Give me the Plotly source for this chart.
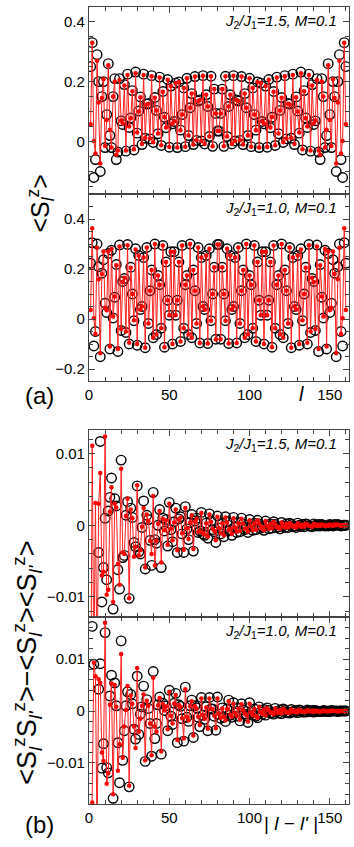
import plotly.graph_objects as go

# site index l (panel a) and distance |l-l'| (panel b)
sites = list(range(1, 161))

# <S_l^z>, J2/J1 = 1.5
sz_j15_black = [
    0.25, 0.33, -0.12, -0.06, 0.29, 0.20, -0.10, 0.15, 0.20, -0.02,
    0.09, 0.26, 0.02, -0.02, 0.15, 0.21, -0.06, -0.035, 0.21, 0.069,
    0.057, 0.19, -0.032, 0.225, 0.047, 0.079, 0.17, -0.028, 0.232, 0.028,
    0.102, 0.149, -0.01, 0.225, 0.011, 0.125, 0.127, 0.009, 0.22, -0.003,
    0.147, 0.104, 0.026, 0.215, -0.013, 0.167, 0.081, 0.046, 0.207, -0.019,
    0.185, 0.059, 0.067, 0.195, -0.02, 0.199, 0.038, 0.09, 0.179, -0.017,
    0.211, 0.02, 0.113, 0.16, -0.01, 0.217, 0.004, 0.135, 0.139, 0.002,
    0.22, -0.008, 0.156, 0.117, 0.017, 0.218, -0.016, 0.175, 0.094, 0.035,
    0.035, 0.094, 0.175, -0.016, 0.218, 0.017, 0.117, 0.156, -0.008, 0.22,
    0.002, 0.139, 0.135, 0.004, 0.217, -0.01, 0.16, 0.113, 0.02, 0.211,
    -0.017, 0.179, 0.09, 0.038, 0.199, -0.02, 0.195, 0.067, 0.059, 0.185,
    -0.019, 0.207, 0.046, 0.081, 0.167, -0.013, 0.215, 0.026, 0.104, 0.147,
    -0.003, 0.22, 0.009, 0.127, 0.125, 0.011, 0.225, -0.01, 0.149, 0.102,
    0.028, 0.232, -0.028, 0.17, 0.079, 0.047, 0.225, -0.032, 0.19, 0.057,
    0.069, 0.21, -0.035, -0.06, 0.21, 0.15, -0.02, 0.02, 0.26, 0.09,
    -0.02, 0.20, 0.15, -0.10, 0.20, 0.29, -0.06, -0.12, 0.33, 0.25,
]
sz_j15_red = [
    0.058, 0.33, 0.002, -0.04, 0.27, 0.13, -0.073, 0.145, 0.208, -0.015,
    0.072, 0.255, 0.039, -0.02, 0.15, 0.20, -0.044, -0.03, 0.205, 0.07,
    0.06, 0.187, -0.03, 0.222, 0.05, 0.078, 0.168, -0.026, 0.228, 0.03,
    0.1, 0.148, -0.008, 0.222, 0.012, 0.124, 0.126, 0.01, 0.218, -0.002,
    0.146, 0.104, 0.027, 0.214, -0.012, 0.166, 0.082, 0.047, 0.206, -0.018,
    0.185, 0.059, 0.067, 0.195, -0.02, 0.199, 0.038, 0.09, 0.179, -0.017,
    0.211, 0.02, 0.113, 0.16, -0.01, 0.217, 0.004, 0.135, 0.139, 0.002,
    0.22, -0.008, 0.156, 0.117, 0.017, 0.218, -0.016, 0.175, 0.094, 0.035,
    0.035, 0.094, 0.175, -0.016, 0.218, 0.017, 0.117, 0.156, -0.008, 0.22,
    0.002, 0.139, 0.135, 0.004, 0.217, -0.01, 0.16, 0.113, 0.02, 0.211,
    -0.017, 0.179, 0.09, 0.038, 0.199, -0.02, 0.195, 0.067, 0.059, 0.185,
    -0.018, 0.206, 0.047, 0.082, 0.166, -0.012, 0.214, 0.027, 0.104, 0.146,
    -0.002, 0.218, 0.01, 0.126, 0.124, 0.012, 0.222, -0.008, 0.148, 0.1,
    0.03, 0.228, -0.026, 0.168, 0.078, 0.05, 0.222, -0.03, 0.187, 0.06,
    0.07, 0.205, -0.03, -0.044, 0.20, 0.15, -0.02, 0.039, 0.255, 0.072,
    -0.015, 0.208, 0.145, -0.073, 0.13, 0.27, -0.04, 0.002, 0.33, 0.058,
]

# <S_l^z>, J2/J1 = 1.0
sz_j10_black = [
    0.223, 0.305, -0.108, -0.05, 0.30, 0.209, -0.151, 0.183, 0.237, 0.063,
    0.026, 0.262, -0.12, 0.275, 0.004, 0.087, 0.218, -0.13, 0.296, -0.046,
    0.15, 0.162, -0.054, 0.298, -0.1, 0.207, 0.1, -0.007, 0.281, -0.105,
    0.254, 0.038, 0.05, 0.246, -0.115, 0.286, -0.018, 0.113, 0.196, -0.075,
    0.3, -0.062, 0.174, 0.137, -0.037, 0.294, -0.113, 0.228, 0.075, 0.015,
    0.269, -0.1, 0.269, 0.015, 0.075, 0.228, -0.09, 0.294, -0.037, 0.137,
    0.174, -0.062, 0.3, -0.075, 0.196, 0.113, -0.018, 0.286, -0.096, 0.246,
    0.05, 0.038, 0.254, -0.098, 0.281, -0.007, 0.1, 0.207, -0.081, 0.298,
    0.298, -0.081, 0.207, 0.1, -0.007, 0.281, -0.098, 0.254, 0.038, 0.05,
    0.246, -0.096, 0.286, -0.018, 0.113, 0.196, -0.075, 0.3, -0.062, 0.174,
    0.137, -0.037, 0.294, -0.09, 0.228, 0.075, 0.015, 0.269, -0.1, 0.269,
    0.015, 0.075, 0.228, -0.113, 0.294, -0.037, 0.137, 0.174, -0.062, 0.3,
    -0.075, 0.196, 0.113, -0.018, 0.286, -0.115, 0.246, 0.05, 0.038, 0.254,
    -0.105, 0.281, -0.007, 0.1, 0.207, -0.1, 0.298, -0.054, 0.162, 0.15,
    -0.046, 0.296, -0.13, 0.218, 0.087, 0.004, 0.275, -0.12, 0.262, 0.026,
    0.063, 0.237, 0.183, -0.151, 0.209, 0.30, -0.05, -0.108, 0.305, 0.223,
]
sz_j10_red = [
    0.036, 0.363, 0.003, -0.06, 0.285, 0.159, -0.137, 0.18, 0.27, 0.045,
    0.035, 0.27, -0.11, 0.28, 0.01, 0.09, 0.215, -0.12, 0.29, -0.04,
    0.148, 0.165, -0.05, 0.295, -0.095, 0.205, 0.1, -0.005, 0.278, -0.1,
    0.254, 0.038, 0.05, 0.246, -0.115, 0.286, -0.018, 0.113, 0.196, -0.075,
    0.3, -0.062, 0.174, 0.137, -0.037, 0.294, -0.113, 0.228, 0.075, 0.015,
    0.269, -0.1, 0.269, 0.015, 0.075, 0.228, -0.09, 0.294, -0.037, 0.137,
    0.174, -0.062, 0.3, -0.075, 0.196, 0.113, -0.018, 0.286, -0.096, 0.246,
    0.05, 0.038, 0.254, -0.098, 0.281, -0.007, 0.1, 0.207, -0.081, 0.298,
    0.298, -0.081, 0.207, 0.1, -0.007, 0.281, -0.098, 0.254, 0.038, 0.05,
    0.246, -0.096, 0.286, -0.018, 0.113, 0.196, -0.075, 0.3, -0.062, 0.174,
    0.137, -0.037, 0.294, -0.09, 0.228, 0.075, 0.015, 0.269, -0.1, 0.269,
    0.015, 0.075, 0.228, -0.113, 0.294, -0.037, 0.137, 0.174, -0.062, 0.3,
    -0.075, 0.196, 0.113, -0.018, 0.286, -0.115, 0.246, 0.05, 0.038, 0.254,
    -0.1, 0.278, -0.005, 0.1, 0.205, -0.095, 0.295, -0.05, 0.165, 0.148,
    -0.04, 0.29, -0.12, 0.215, 0.09, 0.01, 0.28, -0.11, 0.27, 0.035,
    0.045, 0.27, 0.18, -0.137, 0.159, 0.285, -0.06, 0.003, 0.363, 0.036,
]

# <S_l^z S_l'^z> - <S_l^z><S_l'^z>, J2/J1 = 1.5
corr_j15_black = [
    -0.030, 0.020, -0.016, -0.020, 0.016, -0.0038, 0.0117, -0.0107, -0.0059, 0.0010,
    -0.0076, 0.0020, 0.0039, 0.0066, -0.0117, 0.0037, 0.0027, -0.0062, -0.0089, 0.0091,
    -0.0045, -0.0042, 0.0014, 0.0033, -0.0102, 0.0024, 0.0011, -0.0024, -0.0030, 0.0055,
    -0.0037, -0.0040, -0.0003, 0.0034, -0.0061, 0.0014, 0.0008, -0.0021, -0.0056, 0.0046,
    -0.0020, -0.0025, 0.0000, 0.0022, -0.0059, 0.0010, -0.0008, 0.0008, -0.0029, 0.0032,
    -0.0006, -0.0023, 0.0005, 0.0024, -0.0038, 0.0009, 0.0012, -0.0012, -0.0038, 0.0026,
    -0.0005, -0.0020, 0.0004, 0.0015, -0.0036, 0.0006, 0.0010, -0.0010, -0.0008, 0.0018,
    -0.0012, -0.0014, 0.0003, -0.0018, 0.0016, 0.0006, -0.0006, -0.0009, -0.0024, 0.0013,
    -0.0004, -0.0012, 0.0003, -0.0016, 0.0012, 0.0005, -0.0008, -0.0006, -0.0014, 0.0011,
    -0.0003, -0.0010, 0.0004, -0.0009, 0.0010, 0.0002, -0.0006, -0.0004, -0.0010, 0.0008,
    -0.0002, -0.0007, 0.0003, -0.0006, 0.0007, 0.0002, -0.0004, -0.0002, -0.0007, 0.0006,
    -0.0001, -0.0005, 0.0002, -0.0004, 0.0005, 0.0001, -0.0003, -0.0002, -0.0005, 0.0004,
    -0.0001, -0.0003, 0.0002, -0.0003, 0.0003, 0.0001, -0.0002, -0.0001, -0.0003, 0.0003,
    0.0000, -0.0002, 0.0001, -0.0002, 0.0002, 0.0001, -0.0001, -0.0001, -0.0002, 0.0002,
    0.0000, -0.0001, 0.0001, -0.0001, 0.0001, 0.0000, -0.0001, 0.0000, -0.0001, 0.0001,
    0.0000, -0.0001, 0.0001, 0.0000, 0.0001, 0.0000, -0.0001, 0.0000, 0.0000, 0.0000,
]
corr_j15_red = [
    -0.030, 0.0111, -0.020, 0.0031, -0.022, 0.0030, 0.0073, -0.0070, -0.0065, 0.0124,
    -0.0097, -0.0090, 0.0019, 0.0053, -0.0107, 0.0030, 0.0025, -0.0054, -0.0083, 0.0079,
    -0.0038, -0.0040, 0.0013, 0.0037, -0.0102, 0.0022, 0.0010, -0.0044, -0.0030, 0.0056,
    -0.0042, -0.0035, -0.0002, 0.0024, -0.0059, 0.0015, 0.0006, -0.0022, -0.0040, 0.0041,
    -0.0056, -0.0022, 0.0002, 0.0020, -0.0052, 0.0009, -0.0007, 0.0007, -0.0027, 0.0030,
    -0.0005, -0.0021, 0.0004, 0.0022, -0.0035, 0.0008, 0.0011, -0.0011, -0.0034, 0.0024,
    -0.0004, -0.0019, 0.0004, 0.0014, -0.0033, 0.0005, 0.0009, -0.0009, -0.0008, 0.0017,
    -0.0011, -0.0013, 0.0003, -0.0016, 0.0015, 0.0005, -0.0005, -0.0008, -0.0021, 0.0012,
    -0.0004, -0.0011, 0.0003, -0.0014, 0.0011, 0.0004, -0.0007, -0.0005, -0.0012, 0.0010,
    -0.0003, -0.0009, 0.0003, -0.0008, 0.0009, 0.0002, -0.0005, -0.0004, -0.0009, 0.0007,
    -0.0002, -0.0007, 0.0003, -0.0006, 0.0007, 0.0002, -0.0004, -0.0002, -0.0007, 0.0006,
    -0.0001, -0.0005, 0.0002, -0.0004, 0.0005, 0.0001, -0.0003, -0.0002, -0.0005, 0.0004,
    -0.0001, -0.0003, 0.0002, -0.0003, 0.0003, 0.0001, -0.0002, -0.0001, -0.0003, 0.0003,
    0.0000, -0.0002, 0.0001, -0.0002, 0.0002, 0.0001, -0.0001, -0.0001, -0.0002, 0.0002,
    0.0000, -0.0001, 0.0001, -0.0001, 0.0001, 0.0000, -0.0001, 0.0000, -0.0001, 0.0001,
    0.0000, -0.0001, 0.0001, 0.0000, 0.0001, 0.0000, -0.0001, 0.0000, 0.0000, 0.0000,
]

# <S_l^z S_l'^z> - <S_l^z><S_l'^z>, J2/J1 = 1.0
corr_j10_black = [
    -0.0250, 0.0163, 0.0090, -0.0200, -0.0190, 0.0042, 0.0091, -0.0110, -0.0063, 0.0151,
    -0.0109, -0.0119, 0.0029, 0.0069, -0.0168, 0.0054, 0.0010, -0.0061, -0.0138, 0.0135,
    -0.0095, -0.0038, 0.0010, 0.0037, -0.0146, 0.0032, 0.0014, -0.0035, -0.0054, 0.0067,
    -0.0045, -0.0006, 0.0008, 0.0048, -0.0097, 0.0022, 0.0005, -0.0024, -0.0087, 0.0076,
    -0.0053, -0.0024, 0.0012, 0.0027, -0.0083, 0.0015, 0.0001, 0.0010, -0.0038, 0.0040,
    -0.0010, -0.0026, 0.0015, 0.0034, -0.0061, 0.0012, 0.0009, -0.0015, -0.0058, 0.0046,
    -0.0012, -0.0020, 0.0010, 0.0021, -0.0051, 0.0010, 0.0006, -0.0012, -0.0030, 0.0026,
    -0.0008, -0.0016, 0.0008, -0.0038, 0.0026, 0.0004, 0.0004, -0.0010, -0.0037, 0.0027,
    -0.0006, -0.0014, 0.0006, -0.0012, -0.0020, 0.0004, 0.0021, -0.0008, -0.0012, 0.0016,
    -0.0004, -0.0010, 0.0006, -0.0019, 0.0014, 0.0002, -0.0006, -0.0009, -0.0022, 0.0016,
    -0.0003, -0.0008, 0.0004, -0.0010, -0.0013, 0.0008, -0.0002, -0.0006, 0.0003, -0.0008,
    0.0006, 0.0001, -0.0004, -0.0003, -0.0006, 0.0005, -0.0001, -0.0004, 0.0002, -0.0005,
    0.0004, 0.0001, -0.0003, -0.0002, -0.0004, 0.0003, -0.0001, -0.0002, 0.0001, -0.0003,
    0.0002, 0.0001, -0.0002, -0.0001, -0.0002, 0.0002, 0.0000, -0.0001, 0.0001, -0.0002,
    0.0001, 0.0000, -0.0001, -0.0001, -0.0001, 0.0001, 0.0000, -0.0001, 0.0000, -0.0001,
    0.0001, 0.0000, 0.0000, 0.0000, -0.0001, 0.0000, 0.0000, 0.0000, 0.0000, 0.0000,
]
corr_j10_red = [
    -0.0400, -0.0176, 0.0093, 0.0067, -0.0250, 0.0061, 0.0054, -0.0080, -0.0096, 0.0170,
    -0.0140, -0.0120, 0.0012, 0.0053, -0.0160, 0.0050, 0.0008, -0.0115, -0.0064, 0.0110,
    -0.0090, -0.0030, 0.0002, 0.0048, -0.0144, 0.0030, 0.0014, -0.0030, -0.0071, 0.0083,
    -0.0040, -0.0015, 0.0010, 0.0032, -0.0095, 0.0020, 0.0010, -0.0024, -0.0085, 0.0064,
    -0.0030, -0.0040, 0.0011, 0.0025, -0.0078, 0.0014, 0.0001, 0.0009, -0.0035, 0.0037,
    -0.0009, -0.0024, 0.0014, 0.0031, -0.0056, 0.0011, 0.0008, -0.0014, -0.0053, 0.0042,
    -0.0011, -0.0018, 0.0009, 0.0019, -0.0047, 0.0009, 0.0005, -0.0011, -0.0027, 0.0024,
    -0.0007, -0.0015, 0.0007, -0.0034, 0.0024, 0.0004, 0.0004, -0.0009, -0.0033, 0.0024,
    -0.0005, -0.0013, 0.0005, -0.0011, -0.0018, 0.0004, 0.0019, -0.0007, -0.0011, 0.0014,
    -0.0004, -0.0009, 0.0005, -0.0017, 0.0013, 0.0002, -0.0005, -0.0008, -0.0020, 0.0014,
    -0.0003, -0.0008, 0.0004, -0.0010, -0.0013, 0.0008, -0.0002, -0.0006, 0.0003, -0.0008,
    0.0006, 0.0001, -0.0004, -0.0003, -0.0006, 0.0005, -0.0001, -0.0004, 0.0002, -0.0005,
    0.0004, 0.0001, -0.0003, -0.0002, -0.0004, 0.0003, -0.0001, -0.0002, 0.0001, -0.0003,
    0.0002, 0.0001, -0.0002, -0.0001, -0.0002, 0.0002, 0.0000, -0.0001, 0.0001, -0.0002,
    0.0001, 0.0000, -0.0001, -0.0001, -0.0001, 0.0001, 0.0000, -0.0001, 0.0000, -0.0001,
    0.0001, 0.0000, 0.0000, 0.0000, -0.0001, 0.0000, 0.0000, 0.0000, 0.0000, 0.0000,
]

ratio_labels = ["1.5", "1.0", "1.5", "1.0"]

W, H = 354, 847
FONT = "Liberation Sans, Arial, sans-serif"
AX = "#444444"

# (black, red, y range, major dtick, minor dtick, top px, bottom px, show x labels)
panels = [
    (sz_j15_black, sz_j15_red, [-0.175, 0.449], 0.2, 0.05, 7, 194, False),
    (sz_j10_black, sz_j10_red, [-0.248, 0.5], 0.2, 0.05, 194, 381, True),
    (corr_j15_black, corr_j15_red, [-0.0128, 0.0133], 0.01, 0.002, 430, 617, False),
    (corr_j10_black, corr_j10_red, [-0.0179, 0.0181], 0.01, 0.002, 617, 804, True),
]

fig = go.Figure()
layout = {}
annotations = []
for i, (blk, red, yr, dt, mdt, top, bot, showx) in enumerate(panels):
    n = "" if i == 0 else str(i + 1)
    fig.add_trace(go.Scatter(
        x=sites, y=blk, mode="markers", xaxis="x" + n, yaxis="y" + n,
        marker=dict(symbol="circle-open", size=9.5, color="black", line=dict(width=1.4, color="black")),
        showlegend=False))
    fig.add_trace(go.Scatter(
        x=sites, y=red, mode="lines+markers", xaxis="x" + n, yaxis="y" + n,
        line=dict(color="rgb(255,30,30)", width=1),
        marker=dict(symbol="circle", size=4.5, color="red"),
        showlegend=False))
    common = dict(showline=True, linecolor=AX, linewidth=1.3, mirror="allticks",
                  ticks="inside", ticklen=6, tickwidth=1.2, tickcolor=AX,
                  showgrid=False, zeroline=False,
                  tickfont=dict(family=FONT, size=15, color="black"))
    layout["xaxis" + n] = dict(
        common, domain=[86 / W, 349 / W], anchor="y" + n, range=[0, 162],
        tickmode="array", tickvals=[0, 50, 100, 150], showticklabels=showx,
        minor=dict(ticks="inside", ticklen=4, tickwidth=1, tickcolor=AX, tick0=0, dtick=10))
    layout["yaxis" + n] = dict(
        common, domain=[1 - bot / H, 1 - top / H], anchor="x" + n, range=yr,
        tick0=0, dtick=dt,
        minor=dict(ticks="inside", ticklen=4, tickwidth=1, tickcolor=AX, tick0=0, dtick=mdt))
    annotations.append(dict(
        text="<i>J</i><sub>2</sub><i>/J</i><sub>1</sub><i>=" + ratio_labels[i] + ", M=0.1</i>",
        xref="paper", yref="paper", x=339 / W, y=1 - (top + 14) / H,
        xanchor="right", yanchor="middle", showarrow=False,
        font=dict(family=FONT, size=15, color="black")))

big = dict(family=FONT, size=24, color="black")
annotations += [
    dict(text="&lt;S<sub><i>l</i></sub><sup>z</sup>&gt;", x=37 / W, y=1 - 203 / H,
         textangle=-90, font=dict(big, size=25)),
    dict(text="&lt;S<sub><i>l</i></sub><sup>z</sup>S<sub><i>l'</i></sub><sup>z</sup>&gt;"
              "\u2212&lt;S<sub><i>l</i></sub><sup>z</sup>&gt;&lt;S<sub><i>l'</i></sub><sup>z</sup>&gt;",
         x=23 / W, y=1 - 663 / H, textangle=-90, font=dict(big, size=27)),
    dict(text="(a)", x=36 / W, y=1 - 396 / H, font=big),
    dict(text="(b)", x=36 / W, y=1 - 824 / H, font=big),
    dict(text="<i>l</i>", x=301 / W, y=1 - 394 / H, font=dict(family=FONT, size=20, color="black")),
    dict(text="| <i>l</i> \u2212 <i>l'</i> |", x=290 / W, y=1 - 823 / H,
         font=dict(family=FONT, size=19, color="black")),
]
for a in annotations[4:]:
    a.update(xref="paper", yref="paper", xanchor="center", yanchor="middle", showarrow=False)

fig.update_layout(
    width=W, height=H, margin=dict(l=0, r=0, t=0, b=0),
    paper_bgcolor="white", plot_bgcolor="white",
    annotations=annotations, **layout)

# drop the default page margin so the figure sits at the window's top-left corner
fig.write_html("out.html", config={"displayModeBar": False},
               post_script="document.body.style.margin='0';")
